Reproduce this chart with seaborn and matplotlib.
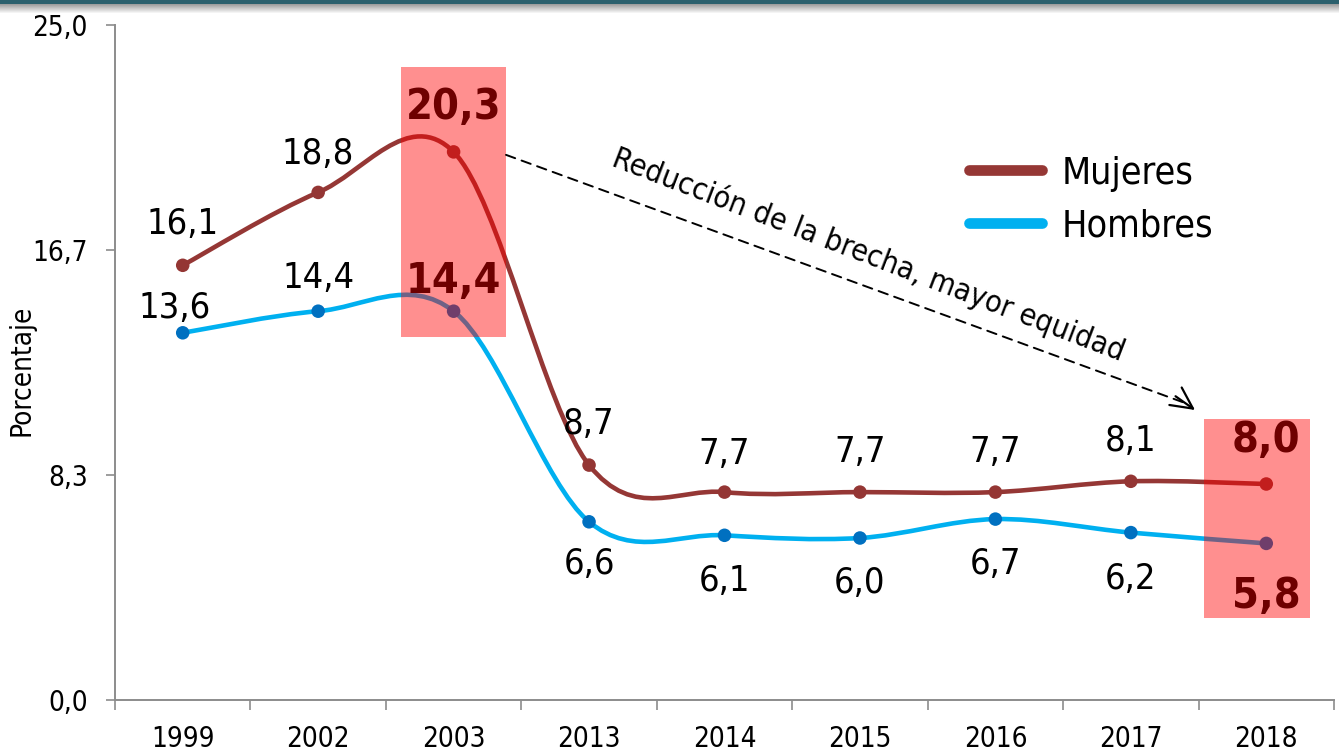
import numpy as np
import pandas as pd
import matplotlib
matplotlib.use("Agg")
import matplotlib.pyplot as plt
import seaborn as sns
from matplotlib.path import Path
from matplotlib.patches import PathPatch, Rectangle
from matplotlib.lines import Line2D

# --------------------------------------------------
# Datos
# --------------------------------------------------
anios = ["1999", "2002", "2003", "2013", "2014", "2015", "2016", "2017", "2018"]
mujeres = [16.1, 18.8, 20.3, 8.7, 7.7, 7.7, 7.7, 8.1, 8.0]
hombres = [13.6, 14.4, 14.4, 6.6, 6.1, 6.0, 6.7, 6.2, 5.8]
y_ticks = [0.0, 25 / 3, 50 / 3, 25.0]
y_tick_labels = ["0,0", "8,3", "16,7", "25,0"]
destacados = ["2003", "2018"]

# posiciones de las etiquetas (pixeles respecto al punto)
off_muj = [(0, 41), (0, 38), (0, 45), (0, 41), (0, 38), (0, 40), (0, 40), (0, 40), (0, 44)]
off_hom = [(-8, 25), (0, 33), (0, 30), (0, -42), (0, -46), (0, -45), (0, -45), (0, -46), (0, -53)]

c_muj = "#953735"
c_muj_pt = "#943634"
c_hom = "#00B0F0"
c_hom_pt = "#0070C0"
c_dest = "#6E0000"

sns.set_theme(style="white")
plt.rcParams["font.family"] = ["DejaVu Sans"]
plt.rcParams["font.stretch"] = "condensed"
plt.rcParams["text.color"] = "black"
plt.rcParams["axes.labelcolor"] = "black"


def curva_suave(xs, ys):
    # curva tipo Excel "línea suavizada" (Bezier Catmull-Rom)
    pts = np.column_stack([xs, ys]).astype(float)
    n = len(pts)
    verts = [pts[0]]
    codes = [Path.MOVETO]
    for i in range(n - 1):
        p0 = pts[max(i - 1, 0)]
        p1 = pts[i]
        p2 = pts[i + 1]
        p3 = pts[min(i + 2, n - 1)]
        verts += [p1 + (p2 - p0) / 6, p2 - (p3 - p1) / 6, p2]
        codes += [Path.CURVE4] * 3
    return Path(verts, codes)


x = np.arange(len(anios))
df = pd.DataFrame({
    "x": np.concatenate([x, x]),
    "valor": mujeres + hombres,
    "sexo": ["Mujeres"] * len(anios) + ["Hombres"] * len(anios),
})

fig = plt.figure(figsize=(13.39, 7.56), dpi=100)
ax = fig.add_axes([115 / 1339, 56 / 756, 1219 / 1339, 675 / 756])

# líneas suavizadas
ax.add_patch(PathPatch(curva_suave(x, mujeres), fc="none", ec=c_muj, lw=3.3,
                       capstyle="round", zorder=2))
ax.add_patch(PathPatch(curva_suave(x, hombres), fc="none", ec=c_hom, lw=3.3,
                       capstyle="round", zorder=2))

# puntos
sns.scatterplot(data=df, x="x", y="valor", hue="sexo",
                palette={"Mujeres": c_muj_pt, "Hombres": c_hom_pt},
                s=95, linewidth=0, legend=False, zorder=3, ax=ax)

# recuadros destacados
cajas = {"2003": (1.612, 13.44, 0.775, 10.0), "2018": (7.540, 3.04, 0.783, 7.37)}
for a in destacados:
    x0, y0, w, h = cajas[a]
    ax.add_patch(Rectangle((x0, y0), w, h, fc="#FF0000", ec="none", alpha=0.44, zorder=4))

# etiquetas de valores
for i, a in enumerate(anios):
    dest = a in destacados
    kw = dict(ha="center", va="center", textcoords="offset pixels", zorder=6,
              fontsize=31 if dest else 26, fontweight="bold" if dest else "normal",
              color=c_dest if dest else "black")
    ax.annotate(f"{mujeres[i]:.1f}".replace(".", ","), (i, mujeres[i]), xytext=off_muj[i], **kw)
    ax.annotate(f"{hombres[i]:.1f}".replace(".", ","), (i, hombres[i]), xytext=off_hom[i], **kw)

# flecha y texto
ax.annotate("", xy=(7.40, 11.0), xytext=(2.387, 20.19),
            arrowprops=dict(arrowstyle="-", color="black", lw=1.4,
                            linestyle=(0, (5, 3.5)), shrinkA=0, shrinkB=0), zorder=5)
ax.annotate("", xy=(7.474, 10.74), xytext=(7.33, 11.25),
            arrowprops=dict(arrowstyle="->, head_length=0.7, head_width=0.35", color="black",
                            lw=1.6, mutation_scale=22, shrinkA=0, shrinkB=0), zorder=5)
ax.text(5.06, 16.5, "Reducción de la brecha, mayor equidad", rotation=-21,
        rotation_mode="anchor", ha="center", va="center", fontsize=22, color="black",
        zorder=6)

# ejes
ax.set_xlim(-0.5, len(anios) - 0.5)
ax.set_ylim(0, 25)
ax.set_xticks(x)
ax.set_xticklabels(anios)
ax.set_xticks(np.arange(-0.5, len(anios)), minor=True)
ax.set_yticks(y_ticks)
ax.set_yticklabels(y_tick_labels)
ax.set_xlabel("")
ax.set_ylabel("Porcentaje", fontsize=20, color="black")
ax.yaxis.label.set_va("center")
ax.yaxis.set_label_coords(-0.0763, 0.489)

sns.despine(ax=ax)
for s in ["left", "bottom"]:
    ax.spines[s].set_color("#8C8C8C")
    ax.spines[s].set_linewidth(1.4)
ax.tick_params(axis="x", which="major", bottom=True, length=0, pad=18, labelsize=20,
               labelcolor="black")
ax.tick_params(axis="x", which="minor", bottom=True, length=7.2, width=1.2, color="#8C8C8C")
ax.tick_params(axis="y", which="major", left=True, length=6.5, width=1.2, color="#8C8C8C",
               pad=13, labelsize=20, labelcolor="black")
ax.grid(False)

# leyenda
handles = [Line2D([], [], color=c_muj, lw=7.7), Line2D([], [], color=c_hom, lw=7.7)]
fig.legend(handles, ["Mujeres", "Hombres"], loc="center left",
           bbox_to_anchor=(969 / 1339, 1 - 200 / 756), frameon=False, fontsize=27,
           handlelength=1.95, handletextpad=0.52, labelspacing=0.45, borderpad=0,
           borderaxespad=0, labelcolor="black")

# banda superior
banda = fig.add_axes([0, 1 - 14 / 756, 1, 14 / 756])
grad = np.ones((14, 1, 3))
grad[:4] = [0.17, 0.38, 0.43]
for k, g in enumerate(np.linspace(0.62, 1.0, 10)):
    grad[4 + k] = g
banda.imshow(grad, aspect="auto", extent=(0, 1, 0, 1), interpolation="nearest")
banda.axis("off")

fig.savefig("out.png", dpi=100)
